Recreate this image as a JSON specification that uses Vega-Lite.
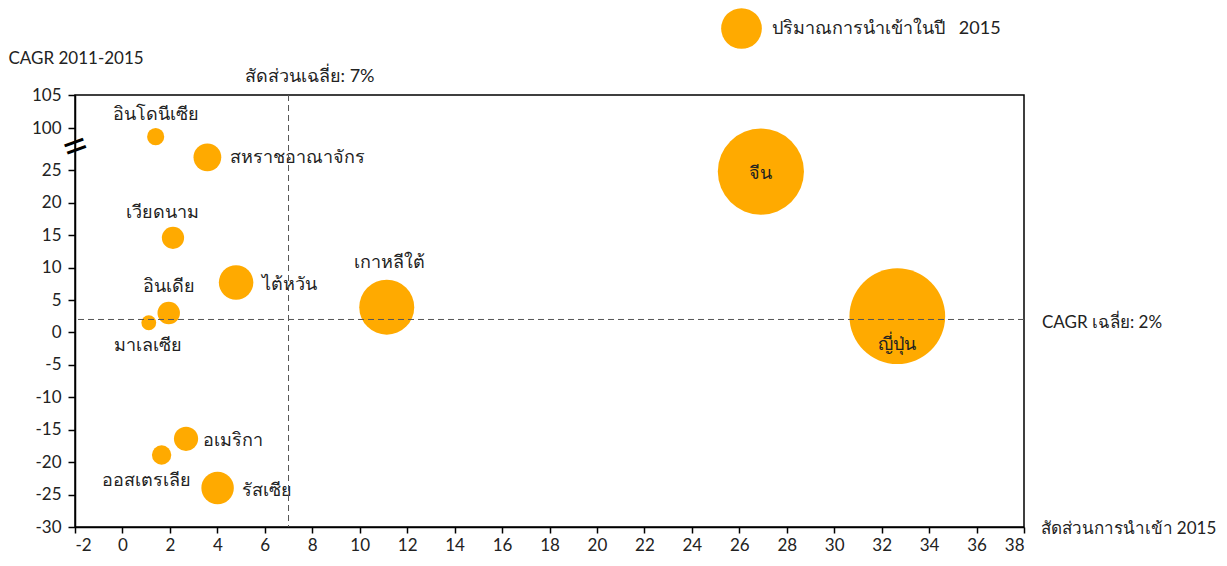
{
  "$schema": "https://vega.github.io/schema/vega-lite/v6.json",
  "width": 949,
  "height": 432,
  "autosize": {"type": "none"},
  "padding": {"left": 75, "top": 95, "right": 203, "bottom": 39},
  "background": "white",
  "config": {
    "view": {"stroke": "#000", "strokeWidth": 1.5},
    "font": "Lato",
    "axis": {"grid": false, "domainColor": "#000", "domainWidth": 1.5, "tickColor": "#000", "tickWidth": 1.5, "labelFont": "Lato", "labelFontSize": 17, "labelColor": "#222", "titleFont": "Lato", "titleFontSize": 17, "titleFontWeight": "normal", "titleColor": "#222"},
    "text": {"font": "Lato", "fontSize": 18, "color": "#222"}
  },
  "datasets": {
    "imports": [
      {"country": "อินโดนีเซีย", "share": 1.4, "cagr": 98.7, "volume": 3.2},
      {"country": "สหราชอาณาจักร", "share": 3.58, "cagr": 27.0, "volume": 8.4},
      {"country": "จีน", "share": 26.91, "cagr": 24.8, "volume": 81},
      {"country": "เวียดนาม", "share": 2.13, "cagr": 14.6, "volume": 5.4},
      {"country": "ไต้หวัน", "share": 4.79, "cagr": 7.7, "volume": 13},
      {"country": "เกาหลีใต้", "share": 11.14, "cagr": 3.9, "volume": 33},
      {"country": "อินเดีย", "share": 1.95, "cagr": 3.0, "volume": 5.5},
      {"country": "มาเลเซีย", "share": 1.11, "cagr": 1.5, "volume": 2.4},
      {"country": "ญี่ปุ่น", "share": 32.66, "cagr": 2.5, "volume": 100},
      {"country": "อเมริกา", "share": 2.68, "cagr": -16.4, "volume": 6.4},
      {"country": "ออสเตรเลีย", "share": 1.65, "cagr": -18.9, "volume": 4.1},
      {"country": "รัสเซีย", "share": 4.01, "cagr": -24.0, "volume": 11.5}
    ]
  },
  "data": {"name": "imports"},
  "encoding": {
    "x": {"field": "share", "type": "quantitative", "scale": {"domain": [-2, 38], "nice": false, "zero": false},
      "axis": {"values": [-2,0,2,4,6,8,10,12,14,16,18,20,22,24,26,28,30,32,34,36,38], "labelExpr": "'' + datum.value", "tickSize": 6, "labelPadding": 4, "title": "สัดส่วนการนำเข้า 2015", "titleAlign": "left", "titleAnchor": null, "titleX": 965, "titleY": 6, "titleBaseline": "alphabetic"}},
    "y": {"field": "cagr", "type": "quantitative", "scale": {"domain": [-30, 27.9, 96.6, 105], "range": [432, 56.5, 55.5, 0], "nice": false, "zero": false},
      "axis": {"values": [-30,-25,-20,-15,-10,-5,0,5,10,15,20,25,100,105], "labelExpr": "'' + datum.value", "tickSize": 7, "labelPadding": 7, "title": "CAGR 2011-2015", "titleAngle": 0, "titleAlign": "left", "titleAnchor": null, "titleX": -67, "titleY": -32, "titleBaseline": "alphabetic"}}
  },
  "layer": [
    {
      "mark": {"type": "circle", "color": "#FFAA00", "opacity": 1},
      "encoding": {
        "size": {"field": "volume", "type": "quantitative", "scale": {"domain": [0, 100], "range": [0, 9161]},
          "legend": {"values": [18.1], "title": null, "orient": "none", "legendX": 646, "legendY": -87, "padding": 0, "labelExpr": "'ปริมาณการนำเข้าในปี\u00a0\u00a0\u00a02015'", "labelLimit": 400, "labelFontSize": 18, "labelFont": "Lato", "labelColor": "#222", "labelOffset": 10, "symbolFillColor": "#FFB933", "symbolStrokeWidth": 0, "symbolOpacity": 1}}
      }
    },
    {"transform": [{"filter": "datum.country === 'อินโดนีเซีย'"}], "mark": {"type": "text", "align": "center", "baseline": "alphabetic", "dx": 0, "dy": -17}, "encoding": {"text": {"field": "country"}}},
    {"transform": [{"filter": "datum.country === 'สหราชอาณาจักร'"}], "mark": {"type": "text", "align": "left", "baseline": "alphabetic", "dx": 23, "dy": 6}, "encoding": {"text": {"field": "country"}}},
    {"transform": [{"filter": "datum.country === 'จีน'"}], "mark": {"type": "text", "align": "center", "baseline": "alphabetic", "dx": 0, "dy": 7}, "encoding": {"text": {"field": "country"}}},
    {"transform": [{"filter": "datum.country === 'เวียดนาม'"}], "mark": {"type": "text", "align": "center", "baseline": "alphabetic", "dx": -10, "dy": -20}, "encoding": {"text": {"field": "country"}}},
    {"transform": [{"filter": "datum.country === 'ไต้หวัน'"}], "mark": {"type": "text", "align": "left", "baseline": "alphabetic", "dx": 26, "dy": 7}, "encoding": {"text": {"field": "country"}}},
    {"transform": [{"filter": "datum.country === 'เกาหลีใต้'"}], "mark": {"type": "text", "align": "center", "baseline": "alphabetic", "dx": 3, "dy": -39}, "encoding": {"text": {"field": "country"}}},
    {"transform": [{"filter": "datum.country === 'อินเดีย'"}], "mark": {"type": "text", "align": "center", "baseline": "alphabetic", "dx": 0, "dy": -21}, "encoding": {"text": {"field": "country"}}},
    {"transform": [{"filter": "datum.country === 'มาเลเซีย'"}], "mark": {"type": "text", "align": "center", "baseline": "alphabetic", "dx": -1, "dy": 28}, "encoding": {"text": {"field": "country"}}},
    {"transform": [{"filter": "datum.country === 'ญี่ปุ่น'"}], "mark": {"type": "text", "align": "center", "baseline": "alphabetic", "dx": 0, "dy": 34}, "encoding": {"text": {"field": "country"}}},
    {"transform": [{"filter": "datum.country === 'อเมริกา'"}], "mark": {"type": "text", "align": "left", "baseline": "alphabetic", "dx": 17, "dy": 7}, "encoding": {"text": {"field": "country"}}},
    {"transform": [{"filter": "datum.country === 'ออสเตรเลีย'"}], "mark": {"type": "text", "align": "center", "baseline": "alphabetic", "dx": -15, "dy": 31}, "encoding": {"text": {"field": "country"}}},
    {"transform": [{"filter": "datum.country === 'รัสเซีย'"}], "mark": {"type": "text", "align": "left", "baseline": "alphabetic", "dx": 24, "dy": 8}, "encoding": {"text": {"field": "country"}}},
    {
      "data": {"values": [{"avg_share": 7}]},
      "mark": {"type": "rule", "color": "#555", "strokeWidth": 1, "strokeDash": [6, 4]},
      "encoding": {"x": {"field": "avg_share", "type": "quantitative"}, "y": null}
    },
    {
      "data": {"values": [{"avg_cagr": 2}]},
      "mark": {"type": "rule", "color": "#555", "strokeWidth": 1, "strokeDash": [6, 4]},
      "encoding": {"y": {"field": "avg_cagr", "type": "quantitative"}, "x": null}
    },
    {
      "data": {"values": [{"label": "สัดส่วนเฉลี่ย: 7%", "xv": 7, "yv": 105}]},
      "mark": {"type": "text", "align": "center", "baseline": "alphabetic", "dx": 21, "dy": -13, "fontSize": 18},
      "encoding": {"x": {"field": "xv", "type": "quantitative"}, "y": {"field": "yv", "type": "quantitative"}, "text": {"field": "label"}}
    },
    {
      "data": {"values": [{"label": "CAGR เฉลี่ย: 2%", "xv": 38, "yv": 2}]},
      "mark": {"type": "text", "align": "left", "baseline": "alphabetic", "dx": 18, "dy": 9, "fontSize": 17},
      "encoding": {"x": {"field": "xv", "type": "quantitative"}, "y": {"field": "yv", "type": "quantitative"}, "text": {"field": "label"}}
    },
    {
      "data": {"values": [{"label": "=", "xv": -2, "yv": 60}]},
      "mark": {"type": "text", "align": "center", "baseline": "middle", "angle": -20, "fontSize": 46, "dy": -3, "dx": 2, "color": "#000"},
      "encoding": {"x": {"field": "xv", "type": "quantitative"}, "y": {"field": "yv", "type": "quantitative"}, "text": {"field": "label"}}
    }
  ]
}
